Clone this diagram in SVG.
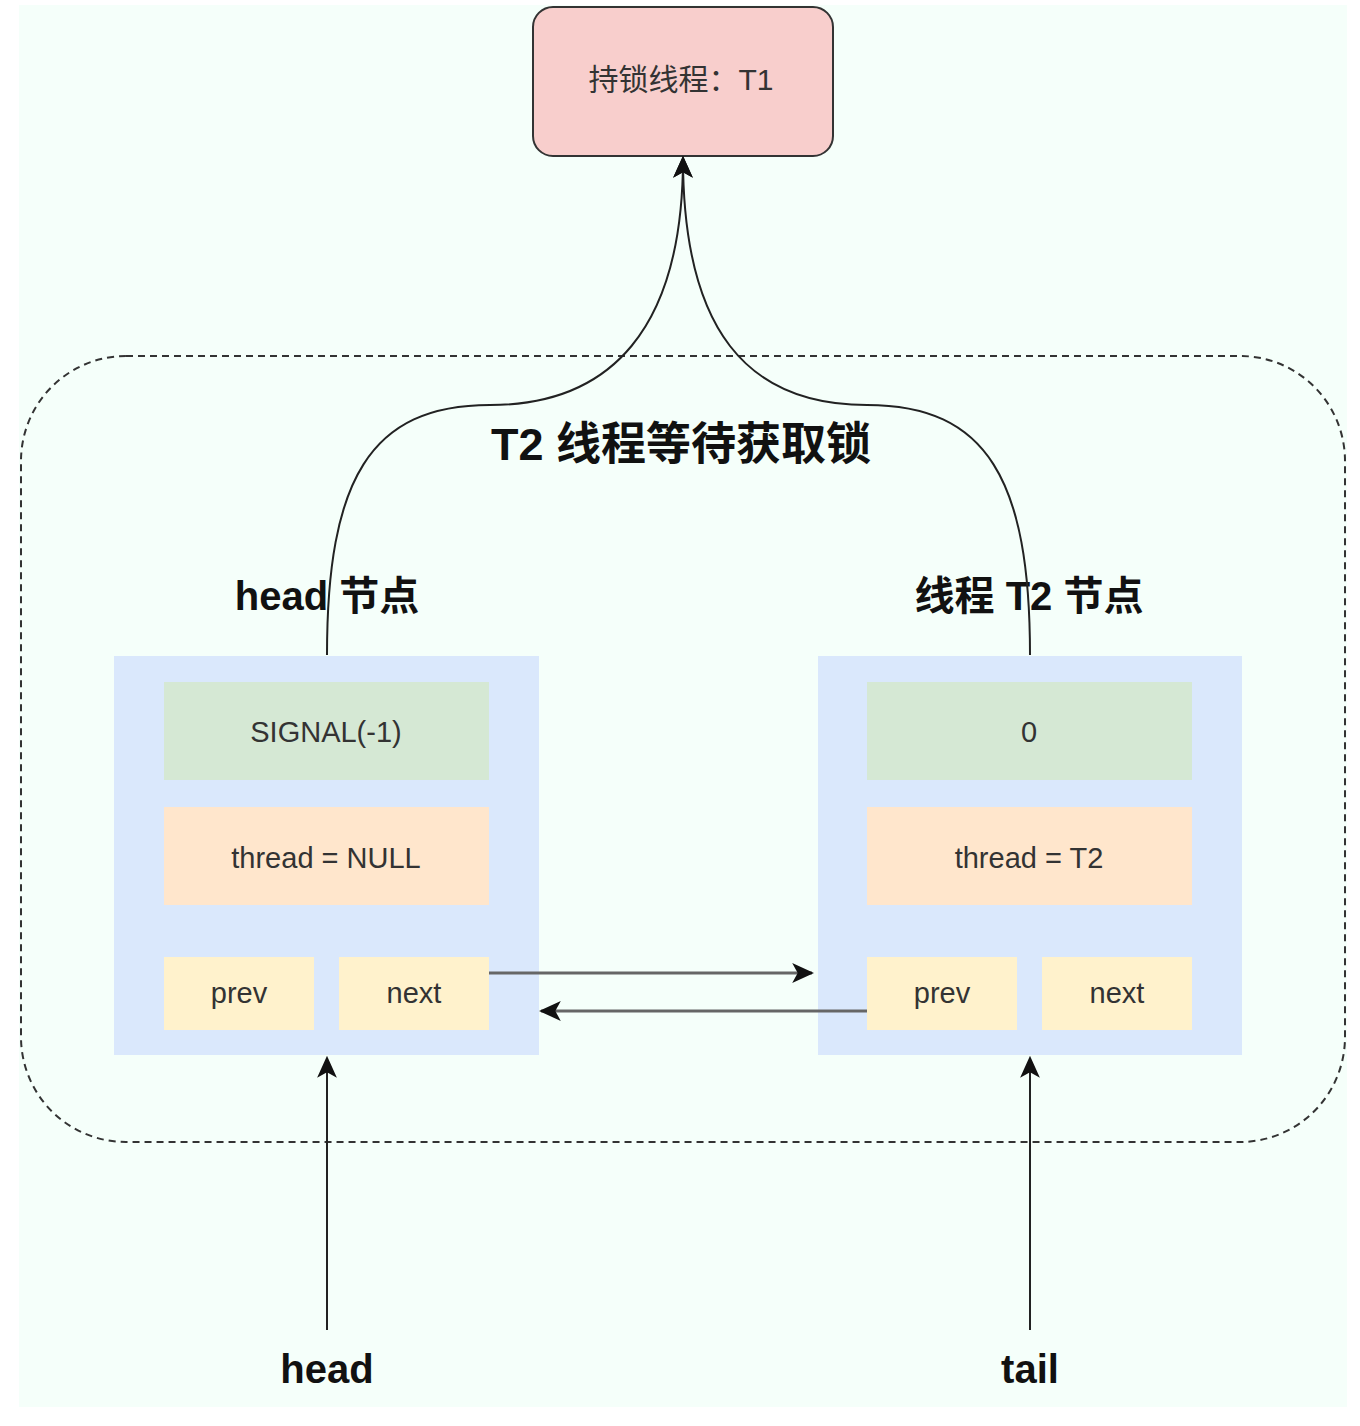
<svg xmlns="http://www.w3.org/2000/svg" width="1360" height="1426" viewBox="0 0 1360 1426">
<style>
.t{font-family:"Liberation Sans","Noto Sans CJK SC",sans-serif;fill:#333;text-anchor:middle}
.b{font-family:"Liberation Sans","Noto Sans CJK SC",sans-serif;fill:#111;font-weight:bold;text-anchor:middle}
.f{font-size:29px}
.c{fill:none;stroke:#222;stroke-width:2}
.g{fill:none;stroke:#666;stroke-width:3}
</style>
<defs>
<marker id="ah" viewBox="0 0 20 20" refX="18" refY="10" markerWidth="22" markerHeight="22" markerUnits="userSpaceOnUse" orient="auto">
<path d="M0,1 L20,10 L0,19 L5,10 Z" fill="#111"/>
</marker>
</defs>
<rect x="19" y="5" width="1328" height="1402" fill="#f5fffa"/>
<g id="container">
<rect x="21" y="356" width="1324" height="786" rx="105" ry="105" fill="none" stroke="#333" stroke-width="2" stroke-dasharray="7 5"/>
<text class="b" x="681" y="460" font-size="45">T2 线程等待获取锁</text>
</g>
<g id="lock-holder">
<rect x="533" y="7" width="300" height="149" rx="20" ry="20" fill="#f8cecc" stroke="#333" stroke-width="2"/>
<text class="t" x="681" y="90" font-size="30">持锁线程：T1</text>
</g>
<g id="head-node">
<text class="b" x="327" y="610" font-size="40">head 节点</text>
<rect x="114" y="656" width="425" height="399" fill="#dae8fc"/>
<rect x="164" y="682" width="325" height="98" fill="#d5e8d4"/>
<text class="t f" x="326" y="742">SIGNAL(-1)</text>
<rect x="164" y="807" width="325" height="98" fill="#ffe6cc"/>
<text class="t f" x="326" y="868">thread = NULL</text>
<rect x="164" y="957" width="150" height="73" fill="#fff2cc"/>
<text class="t f" x="239" y="1003">prev</text>
<rect x="339" y="957" width="150" height="73" fill="#fff2cc"/>
<text class="t f" x="414" y="1003">next</text>
</g>
<g id="t2-node">
<text class="b" x="1029" y="610" font-size="40">线程 T2 节点</text>
<rect x="818" y="656" width="424" height="399" fill="#dae8fc"/>
<rect x="867" y="682" width="325" height="98" fill="#d5e8d4"/>
<text class="t f" x="1029" y="742">0</text>
<rect x="867" y="807" width="325" height="98" fill="#ffe6cc"/>
<text class="t f" x="1029" y="868">thread = T2</text>
<rect x="867" y="957" width="150" height="73" fill="#fff2cc"/>
<text class="t f" x="942" y="1003">prev</text>
<rect x="1042" y="957" width="150" height="73" fill="#fff2cc"/>
<text class="t f" x="1117" y="1003">next</text>
</g>
<g id="head-label">
<text class="b" x="327" y="1383" font-size="40">head</text>
</g>
<g id="tail-label">
<text class="b" x="1030" y="1383" font-size="40">tail</text>
</g>
<g id="connectors">
<path class="c" d="M327,655 C327,480 370,405 490,405 C610,405 683,330 683,158" marker-end="url(#ah)"/>
<path class="c" d="M1030,655 C1030,480 987,405 867,405 C747,405 683,330 683,158" marker-end="url(#ah)"/>
<path class="g" d="M489,973 L812,973" marker-end="url(#ah)"/>
<path class="g" d="M867,1011 L541,1011" marker-end="url(#ah)"/>
<path class="c" d="M327,1330 L327,1058" marker-end="url(#ah)"/>
<path class="c" d="M1030,1330 L1030,1058" marker-end="url(#ah)"/>
</g>
</svg>
